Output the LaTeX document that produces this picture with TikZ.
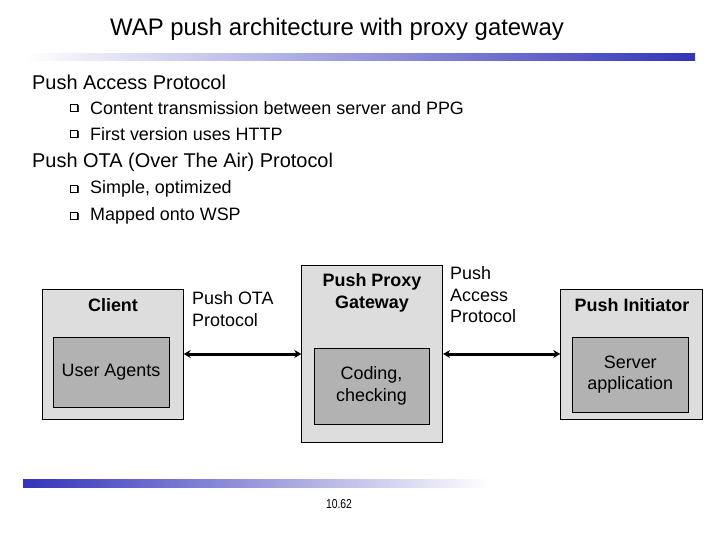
\documentclass[tikz,border=0pt]{standalone}
\usepackage{fontspec}
\setmainfont{Liberation Sans}
\usepackage{tikz}
\usetikzlibrary{positioning,arrows.meta,shadows}
\definecolor{wapblue}{RGB}{51,51,187}
\definecolor{outergray}{RGB}{221,221,221}
\definecolor{innergray}{RGB}{178,178,178}

\begin{document}
\begin{tikzpicture}[
    x=1bp, y=-1bp,
    link/.style={{Stealth[length=7bp,width=8bp]}-{Stealth[length=7bp,width=8bp]}, line width=3bp, black},
    outer/.style={rectangle, draw=black, fill=outergray, line width=0.8bp},
    inner/.style={rectangle, draw=black, fill=innergray, line width=0.8bp,
        align=center, font=\fontsize{18}{21.5}\selectfont},
    boxtitle/.style={font=\fontsize{18}{21.5}\selectfont\bfseries, align=center, inner sep=0pt},
    proto/.style={font=\fontsize{18}{21.5}\selectfont, align=left, anchor=west, inner sep=0pt},
    head/.style={font=\fontsize{20}{24}\selectfont, anchor=west, inner sep=0pt},
    item/.style={font=\fontsize{18}{21.5}\selectfont, anchor=west, inner sep=0pt},
    sq/.style={rectangle, draw=black, fill=white, line width=0.7bp, minimum size=7bp,
        inner sep=0pt, drop shadow={shadow xshift=1bp, shadow yshift=-1bp, opacity=1, fill=black!80}}
]
\useasboundingbox (0,0) rectangle (720,540);

% ---------------- Title and bars ----------------
\node (title) at (337,29) {\fontsize{24}{28}\selectfont WAP push architecture with proxy gateway};
\shade[left color=white, right color=wapblue] (25,54) rectangle (695,61);
\shade[left color=wapblue, right color=white] (23,479) rectangle (490,487);
\node[font=\fontsize{13}{15}\selectfont] (pagenum) at (339,504) {\scalebox{0.8}[1]{10.62}};

% ---------------- Bullet text ----------------
\node[head] (pap) at (32,82) {Push Access Protocol};
\node[sq]   (sq1) at (74,108) {};
\node[item] (it1) at (90,108) {Content transmission between server and PPG};
\node[sq]   (sq2) at (74,134) {};
\node[item] (it2) at (90,134) {First version uses HTTP};
\node[head] (ota) at (32,162) {Push OTA (Over The Air) Protocol};
\node[sq]   (sq3) at (74,189) {};
\node[item] (it3) at (90,189) {Simple, optimized};
\node[sq]   (sq4) at (74,216) {};
\node[item] (it4) at (90,216) {Mapped onto WSP};

% ---------------- Boxes ----------------
\node[outer, minimum width=140.6bp, minimum height=130bp] (client)    at (113,354) {};
\node[outer, minimum width=141bp,   minimum height=177bp] (gateway)   at (372.2,353.5) {};
\node[outer, minimum width=141.3bp, minimum height=130bp] (initiator) at (631.3,354) {};

\node[boxtitle] (clientlbl)    at (113,305)   {Client};
\node[boxtitle] (gatewaylbl)   at (372,293)   {Push Proxy\\Gateway};
\node[boxtitle] (initiatorlbl) at (632,305)   {Push Initiator};

\node[inner, minimum width=116bp,   minimum height=70bp] (agents) at (111,372)     {User Agents};
\node[inner, minimum width=115bp,   minimum height=76bp] (coding) at (371.5,386)   {Coding,\\checking};
\node[inner, minimum width=115.3bp, minimum height=75bp] (server) at (630.3,374.5) {Server\\application};

% ---------------- Protocol links ----------------
\draw[link] (client.east) -- (client.east -| gateway.west);
\draw[link] (gateway.east |- initiator.west) -- (initiator.west);

\node[proto] (otalbl) at (192,309) {Push OTA\\Protocol};
\node[proto] (paplbl) at (450,295) {Push\\Access\\Protocol};

\end{tikzpicture}
\end{document}
